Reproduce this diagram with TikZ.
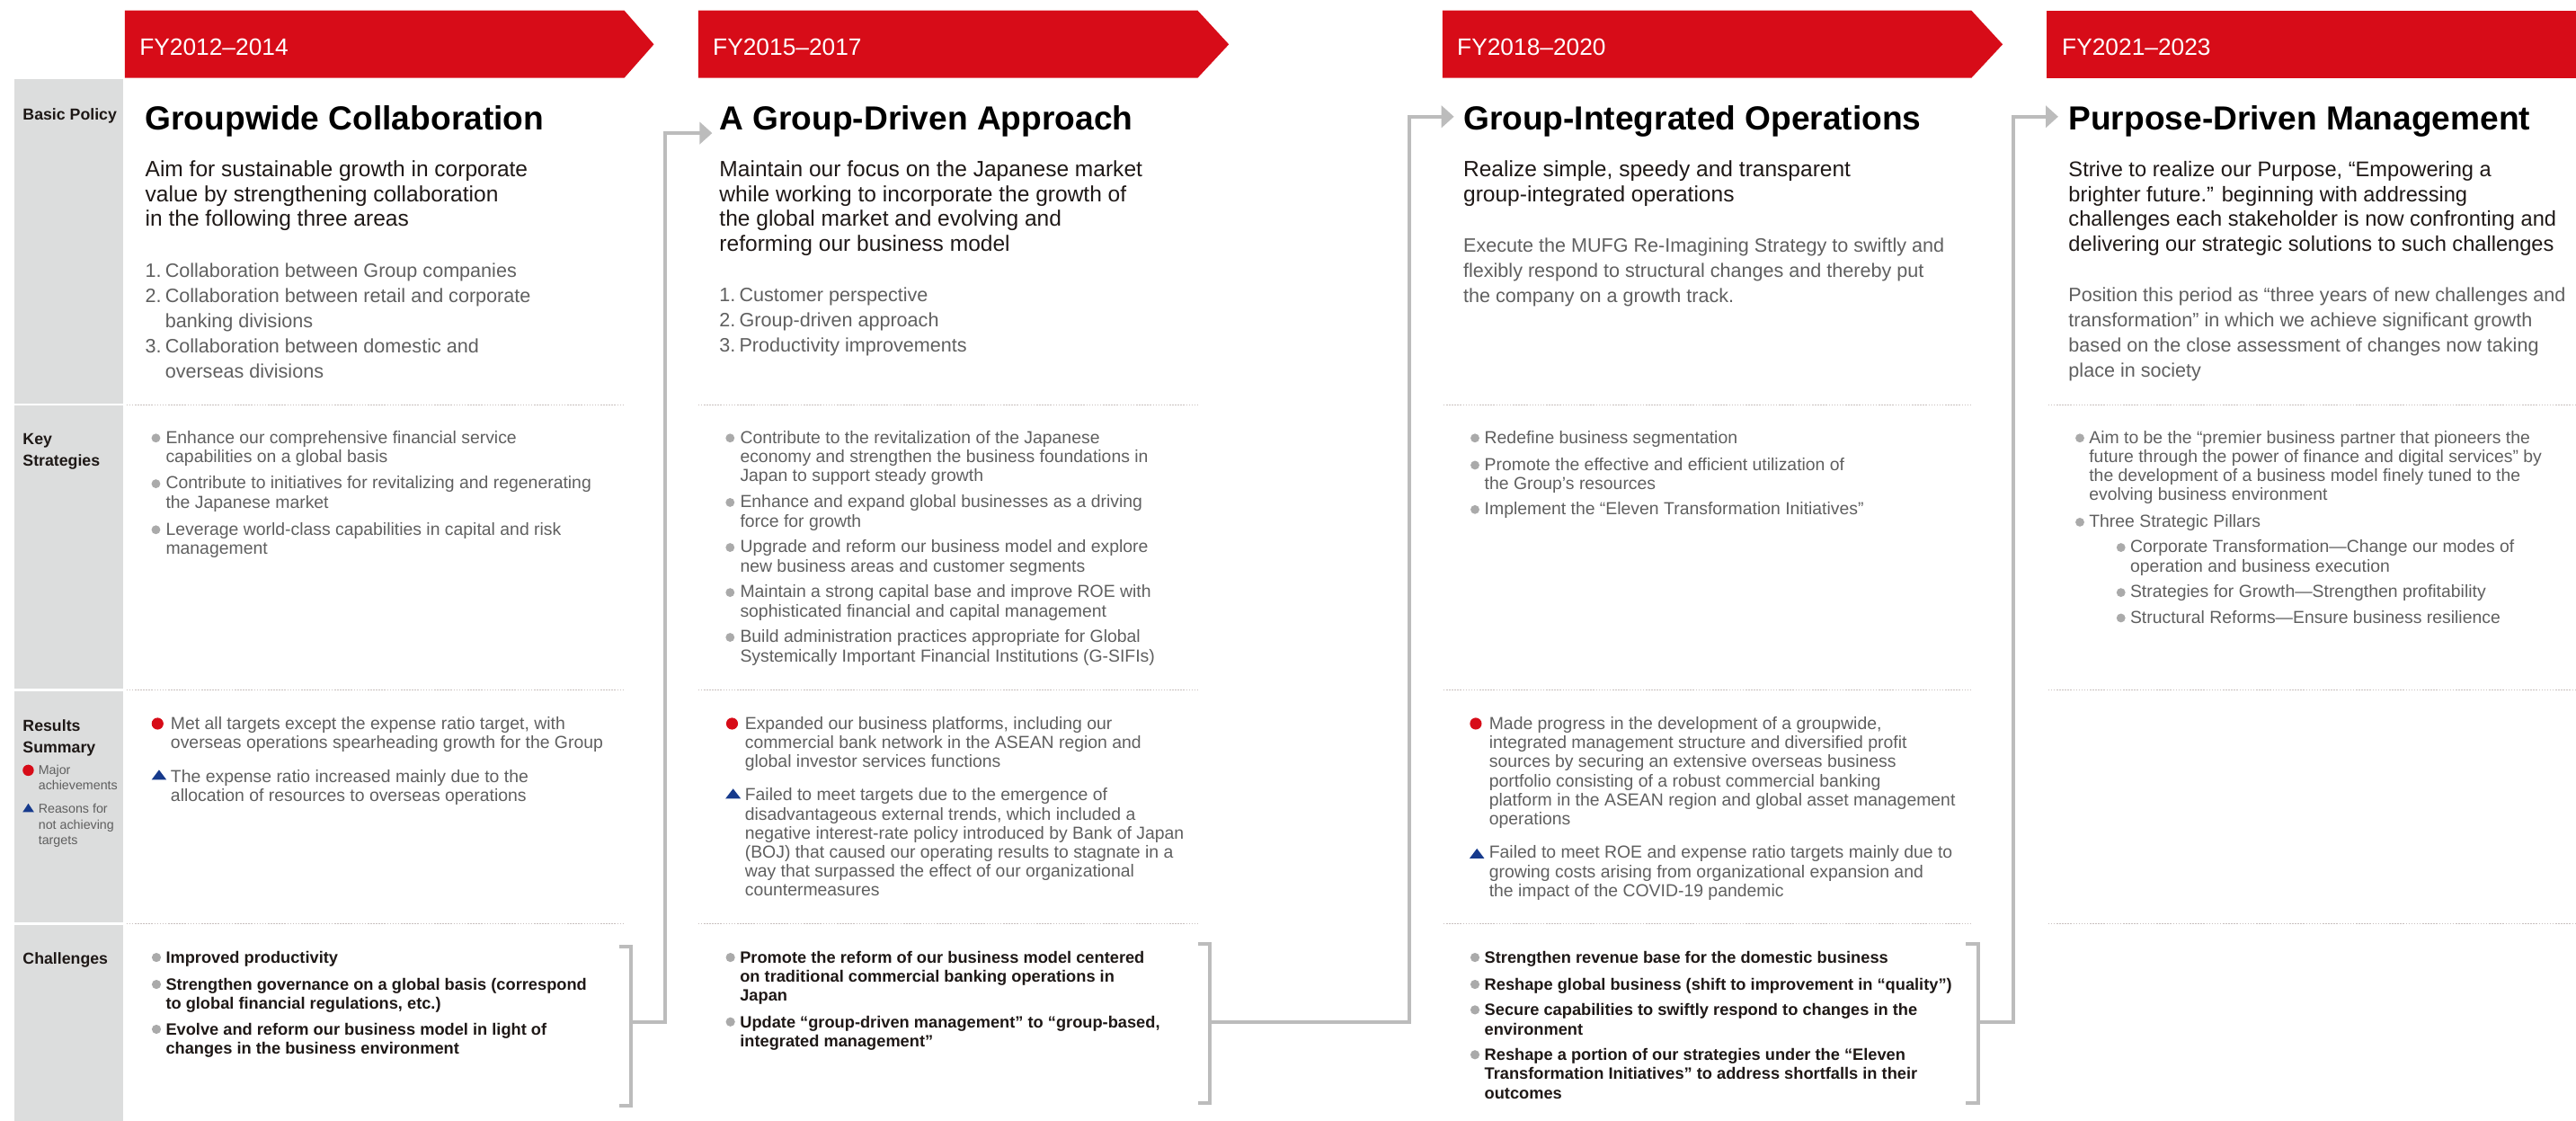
\documentclass[tikz,border=0pt]{standalone}
\usepackage{fontspec}
\setmainfont{Liberation Sans}
\usetikzlibrary{arrows.meta}
\definecolor{mufgred}{RGB}{215,12,24}
\definecolor{labelgray}{RGB}{220,221,221}
\definecolor{linkgray}{RGB}{188,188,188}
\definecolor{dotgray}{RGB}{200,192,190}
\definecolor{bulletgray}{RGB}{170,170,170}
\definecolor{navymark}{RGB}{22,58,140}
\definecolor{bodygray}{RGB}{95,95,95}
\definecolor{inkblack}{RGB}{30,24,22}
\newcommand{\lns}[1]{\begin{tabular}[t]{@{}l@{}}#1\end{tabular}}
\newcommand{\nlist}[1]{\begin{tabular}[t]{@{}l@{}l@{}}#1\end{tabular}}
\newcommand{\nr}[1]{\makebox[6.05mm][l]{#1}}
\begin{document}
\begin{tikzpicture}[
        x=0.05cm, y=-0.05cm,
        banner/.style={fill=mufgred},
        fy/.style={anchor=base west, inner sep=0, text=white, font=\fontsize{20.5}{24}\selectfont},
        rowlabel/.style={anchor=base west, inner sep=0, text=inkblack, font=\bfseries\fontsize{13.8}{18.5}\selectfont},
        legend/.style={anchor=base west, inner sep=0, text=bodygray, font=\fontsize{11.1}{13.5}\selectfont},
        headline/.style={anchor=base west, inner sep=0, text=black, font=\bfseries\fontsize{28.9}{34}\selectfont},
        aim/.style={anchor=base west, inner sep=0, text=inkblack, font=\fontsize{19.1}{21.4}\selectfont},
        plan/.style={anchor=base west, inner sep=0, text=bodygray, font=\fontsize{16.8}{21.9}\selectfont},
        point/.style={anchor=base west, inner sep=0, text=bodygray, font=\fontsize{15.1}{16.5}\selectfont},
        issue/.style={anchor=base west, inner sep=0, text=inkblack, font=\bfseries\fontsize{14.2}{16.4}\selectfont},
        separator/.style={dotgray, line width=0.8pt, dash pattern=on 1.2pt off 1.2pt},
        link/.style={linkgray, line width=3.1pt},
        graydot/.style={fill=bulletgray}
    ]
    \useasboundingbox (0,0) rectangle (1568,682);
    % Period banners
    \foreach \xa/\xb/\tip/\lab [count=\i] in {76/380/398/FY2012–2014, 425/729/748/FY2015–2017, 878/1200/1219/FY2018–2020}{
        \fill[banner] (\xa,6.4) -- (\xb,6.4) -- (\tip,27) -- (\xb,47.4) -- (\xa,47.4) -- cycle;
        \node[fy] (fy\i) at (\xa+8.8,33.7) {\lab};
    }
    \fill[banner] (1246,6.4) rectangle (1568,47.4);
    \node[fy] (fy4) at (1255,33.7) {FY2021–2023};
    % Row labels
    \foreach \ya/\yb in {48.3/245.4, 247/419, 420.6/561.4, 563/682}
        \fill[labelgray] (9,\ya) rectangle (75,\yb);
    \node[rowlabel] (lbpolicy) at (13.8,73) {Basic Policy};
    \node[rowlabel] (lbstrat) at (13.8,270.8) {\lns{Key\\Strategies}};
    \node[rowlabel] (lbresult) at (13.8,445) {\lns{Results\\Summary}};
    \node[rowlabel] (lbissue) at (13.8,586.6) {Challenges};
    \fill[mufgred] (17.2,468.8) circle (0.17cm);
    \node[legend] (lgmajor) at (23.3,471.4) {\lns{Major\\achievements}};
    \fill[navymark] (13.8,494.2) -- (20.7,494.2) -- (17.25,489) -- cycle;
    \node[legend] (lgreason) at (23.3,495) {\lns{Reasons for\\not achieving\\targets}};
    % Dotted row separators
    \foreach \xa/\xb in {77/380, 425/729, 878.6/1200.5, 1246.7/1568}
        \foreach \y in {246.2, 419.8, 562.2}
            \draw[separator] (\xa,\y) -- (\xb,\y);

    % FY2012-2014
    \node[headline] (t1) at (88.3,79.3) {Groupwide Collaboration};
    \node[aim] (a1) at (88.3,107.6) {\lns{Aim for sustainable growth in corporate\\value by strengthening collaboration\\in the following three areas}};
    \node[plan] (p1) at (88.3,168.6) {\nlist{\nr{1.} & Collaboration between Group companies\\\nr{2.} & Collaboration between retail and corporate\\ & banking divisions\\\nr{3.} & Collaboration between domestic and\\ & overseas divisions}};
    \foreach \y/\txt [count=\i] in {
        269.8/{Enhance our comprehensive financial service\\capabilities on a global basis},
        297.6/{Contribute to initiatives for revitalizing and regenerating\\the Japanese market},
        325.6/{Leverage world-class capabilities in capital and risk\\management}}{
        \fill[graydot] (94.9,\y-3.2) circle (0.135cm);
        \node[point] (ks1\i) at (100.8,\y) {\lns{\txt}};
    }
    \fill[mufgred] (95.9,440.4) circle (0.18cm);
    \node[point] (rs1a) at (103.8,444) {\lns{Met all targets except the expense ratio target, with\\overseas operations spearheading growth for the Group}};
    \fill[navymark] (92.3,474.5) -- (101.3,474.5) -- (96.8,468.5) -- cycle;
    \node[point] (rs1b) at (103.8,476) {\lns{The expense ratio increased mainly due to the\\allocation of resources to overseas operations}};
    \foreach \y/\txt [count=\i] in {
        586.3/{Improved productivity},
        602.7/{Strengthen governance on a global basis (correspond\\to global financial regulations, etc.)},
        630/{Evolve and reform our business model in light of\\changes in the business environment}}{
        \fill[graydot] (95.2,\y-3.6) circle (0.14cm);
        \node[issue] (ch1\i) at (100.8,\y) {\lns{\txt}};
    }

    % FY2015-2017
    \node[headline] (t2) at (437.8,79.3) {A Group-Driven Approach};
    \node[aim] (a2) at (437.8,107.6) {\lns{Maintain our focus on the Japanese market\\while working to incorporate the growth of\\the global market and evolving and\\reforming our business model}};
    \node[plan] (p2) at (437.8,183.3) {\nlist{\nr{1.} & Customer perspective\\\nr{2.} & Group-driven approach\\\nr{3.} & Productivity improvements}};
    \foreach \y/\txt [count=\i] in {
        269.8/{Contribute to the revitalization of the Japanese\\economy and strengthen the business foundations in\\Japan to support steady growth},
        309/{Enhance and expand global businesses as a driving\\force for growth},
        336.4/{Upgrade and reform our business model and explore\\new business areas and customer segments},
        363.8/{Maintain a strong capital base and improve ROE with\\sophisticated financial and capital management},
        391.1/{Build administration practices appropriate for Global\\Systemically Important Financial Institutions (G-SIFIs)}}{
        \fill[graydot] (444.4,\y-3.2) circle (0.135cm);
        \node[point] (ks2\i) at (450.4,\y) {\lns{\txt}};
    }
    \fill[mufgred] (445.6,440.4) circle (0.18cm);
    \node[point] (rs2a) at (453.3,444) {\lns{Expanded our business platforms, including our\\commercial bank network in the ASEAN region and\\global investor services functions}};
    \fill[navymark] (441.6,486) -- (450.9,486) -- (446.25,480) -- cycle;
    \node[point] (rs2b) at (453.3,487.4) {\lns{Failed to meet targets due to the emergence of\\disadvantageous external trends, which included a\\negative interest-rate policy introduced by Bank of Japan\\(BOJ) that caused our operating results to stagnate in a\\way that surpassed the effect of our organizational\\countermeasures}};
    \foreach \y/\txt [count=\i] in {
        586.3/{Promote the reform of our business model centered\\on traditional commercial banking operations in\\Japan},
        625.5/{Update “group-driven management” to “group-based,\\integrated management”}}{
        \fill[graydot] (444.6,\y-3.6) circle (0.14cm);
        \node[issue] (ch2\i) at (450.3,\y) {\lns{\txt}};
    }

    % FY2018-2020
    \node[headline] (t3) at (890.6,79.3) {Group-Integrated Operations};
    \node[aim] (a3) at (890.6,107.6) {\lns{Realize simple, speedy and transparent\\group-integrated operations}};
    \node[plan] (p3) at (890.6,153.2) {\lns{Execute the MUFG Re-Imagining Strategy to swiftly and\\flexibly respond to structural changes and thereby put\\the company on a growth track.}};
    \foreach \y/\txt [count=\i] in {
        269.8/{Redefine business segmentation},
        286.3/{Promote the effective and efficient utilization of\\the Group’s resources},
        313.3/{Implement the “Eleven Transformation Initiatives”}}{
        \fill[graydot] (897.8,\y-3.2) circle (0.135cm);
        \node[point] (ks3\i) at (903.5,\y) {\lns{\txt}};
    }
    \fill[mufgred] (898.3,440.4) circle (0.18cm);
    \node[point] (rs3a) at (906.3,444) {\lns{Made progress in the development of a groupwide,\\integrated management structure and diversified profit\\sources by securing an extensive overseas business\\portfolio consisting of a robust commercial banking\\platform in the ASEAN region and global asset management\\operations}};
    \fill[navymark] (894.5,522.4) -- (903.5,522.4) -- (899,516.4) -- cycle;
    \node[point] (rs3b) at (906.3,522.4) {\lns{Failed to meet ROE and expense ratio targets mainly due to\\growing costs arising from organizational expansion and\\the impact of the COVID-19 pandemic}};
    \foreach \y/\txt [count=\i] in {
        586.3/{Strengthen revenue base for the domestic business},
        602.7/{Reshape global business (shift to improvement in “quality”)},
        618.2/{Secure capabilities to swiftly respond to changes in the\\environment},
        645.5/{Reshape a portion of our strategies under the “Eleven\\Transformation Initiatives” to address shortfalls in their\\outcomes}}{
        \fill[graydot] (897.8,\y-3.6) circle (0.14cm);
        \node[issue] (ch3\i) at (903.5,\y) {\lns{\txt}};
    }

    % FY2021-2023
    \node[headline] (t4) at (1259,79.3) {Purpose-Driven Management};
    \node[aim, font=\fontsize{18.4}{21.4}\selectfont] (a4) at (1259,107.6) {\lns{Strive to realize our Purpose, “Empowering a\\brighter future.” beginning with addressing\\challenges each stakeholder is now confronting and\\delivering our strategic solutions to such challenges}};
    \node[plan] (p4) at (1259,183.3) {\lns{Position this period as “three years of new challenges and\\transformation” in which we achieve significant growth\\based on the close assessment of changes now taking\\place in society}};
    \foreach \x/\y/\txt [count=\i] in {
        1266/269.8/{Aim to be the “premier business partner that pioneers the\\future through the power of finance and digital services” by\\the development of a business model finely tuned to the\\evolving business environment},
        1266/321/{Three Strategic Pillars},
        1291/336.4/{Corporate Transformation—Change our modes of\\operation and business execution},
        1291/363.8/{Strategies for Growth—Strengthen profitability},
        1291/379.3/{Structural Reforms—Ensure business resilience}}{
        \fill[graydot] (\x,\y-3.2) circle (0.135cm);
        \node[point] (ks4\i) at (\x+5.5,\y) {\lns{\txt}};
    }

    % Challenges lead into the next period
    \foreach \xb/\ya/\yb [count=\i] in {384/576/673, 736.4/574.4/671.3, 1203.9/574.4/671.3}{
        \draw[link] (\xb-7.3,\ya) -- (\xb,\ya) -- (\xb,\yb) -- (\xb-7.3,\yb);
        \coordinate (br\i) at (\xb,621.8);
    }
    \coordinate (in2) at (433.5,81);
    \coordinate (in3) at (885,71);
    \coordinate (in4) at (1252.8,71);
    \draw[link, -{Triangle[length=0.38cm, width=0.66cm]}] (br1) -- ++(21,0) |- (in2);
    \draw[link, -{Triangle[length=0.38cm, width=0.66cm]}] (br2) -- ++(121.2,0) |- (in3);
    \draw[link, -{Triangle[length=0.38cm, width=0.66cm]}] (br3) -- ++(21.4,0) |- (in4);
\end{tikzpicture}
\end{document}
